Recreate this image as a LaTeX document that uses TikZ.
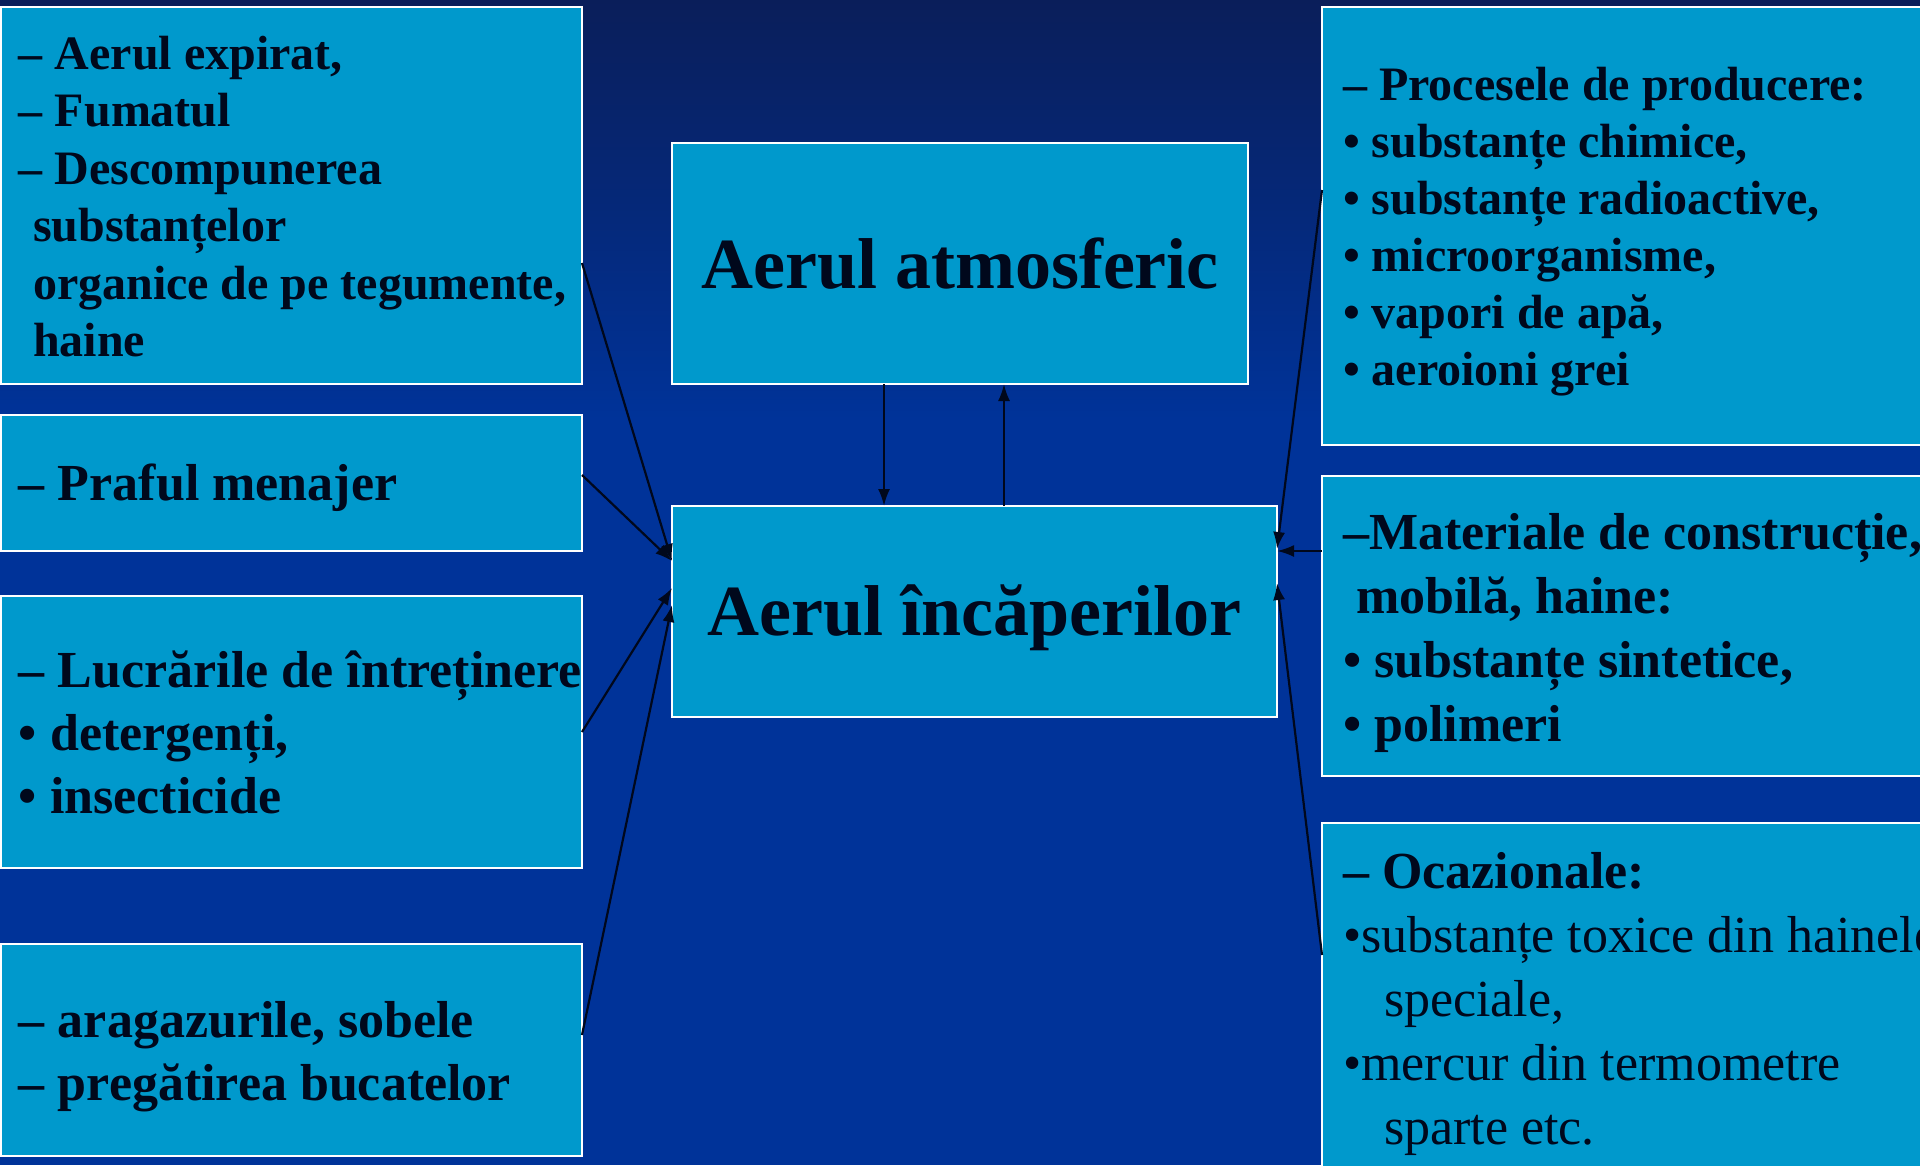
\documentclass[tikz,border=0pt]{standalone}
\usepackage{fontspec}
\setmainfont{Liberation Serif}
\usetikzlibrary{arrows.meta}
\definecolor{boxfill}{RGB}{0,153,204}
\definecolor{backtop}{RGB}{10,30,90}
\definecolor{back}{RGB}{0,51,153}
\definecolor{ink}{RGB}{0,8,28}

\begin{document}
\begin{tikzpicture}[x=1pt,y=-1pt,
    srcbox/.style={draw=white,line width=2pt,fill=boxfill,text=ink,
      inner xsep=18pt,inner ysep=0pt,outer sep=0pt,anchor=north west},
    midbox/.style={srcbox,align=center,font=\fontsize{72}{86}\selectfont\bfseries},
    link/.style={-{Latex[length=17pt,width=12pt]},line width=2.2pt,draw=ink}]
    % background
    \useasboundingbox (0,0) rectangle (1920,1165);
    \clip (0,0) rectangle (1920,1165);
    \fill[back] (0,0) rectangle (1920,1165);
    \shade[top color=backtop,bottom color=back] (0,0) rectangle (1920,420);

    % center boxes
    \node[midbox,minimum width=576pt,minimum height=241pt] (atm) at (672,143) {Aerul atmosferic};
    \node[midbox,minimum width=605pt,minimum height=211pt] (main) at (672,506)
    {\raisebox{-6pt}[\height][\depth]{Aerul încăperilor}};

    % sources on the left
    \node[srcbox,minimum width=581pt,minimum height=377pt] (src1) at (1,7)
    {\fontsize{48}{57.5}\selectfont\bfseries
     \raisebox{-6pt}[\height][\depth]{\makebox[545pt][l]{\begin{tabular}{@{}l@{}}
       – Aerul expirat,\\
       – Fumatul\\
       – Descompunerea\\
       \hspace{14pt}substanțelor\\
       \hspace{14pt}organice de pe tegumente,\\
       \hspace{14pt}haine
     \end{tabular}}}};
    \node[srcbox,minimum width=581pt,minimum height=136pt] (src2) at (1,415)
    {\fontsize{52}{63}\selectfont\bfseries
     \raisebox{-5pt}[\height][\depth]{\makebox[545pt][l]{– Praful menajer}}};
    \node[srcbox,minimum width=581pt,minimum height=272pt] (src3) at (1,596)
    {\fontsize{52}{63}\selectfont\bfseries
     \raisebox{-6pt}[\height][\depth]{\makebox[545pt][l]{\begin{tabular}{@{}l@{}}
       – Lucrările de întreținere\\
       • detergenți,\\
       • insecticide
     \end{tabular}}}};
    \node[srcbox,minimum width=581pt,minimum height=212pt] (src4) at (1,944)
    {\fontsize{52}{63}\selectfont\bfseries
     \raisebox{-6pt}[\height][\depth]{\makebox[545pt][l]{\begin{tabular}{@{}l@{}}
       – aragazurile, sobele\\
       – pregătirea bucatelor
     \end{tabular}}}};

    % sources on the right
    \node[srcbox,inner xsep=21pt,minimum height=438pt] (ext1) at (1322,7)
    {\fontsize{48}{57}\selectfont\bfseries
     \raisebox{-6pt}[\height][\depth]{\makebox[561pt][l]{\begin{tabular}{@{}l@{}}
       – Procesele de producere:\\
       • substanțe chimice,\\
       • substanțe radioactive,\\
       • microorganisme,\\
       • vapori de apă,\\
       • aeroioni grei
     \end{tabular}}}};
    \node[srcbox,inner xsep=21pt,minimum height=300pt] (ext2) at (1322,476)
    {\fontsize{52}{64}\selectfont\bfseries
     \raisebox{-7pt}[\height][\depth]{\makebox[561pt][l]{\begin{tabular}{@{}l@{}}
       –Materiale de construcție,\\
       \hspace{13pt}mobilă, haine:\\
       • substanțe sintetice,\\
       • polimeri
     \end{tabular}}}};
    \node[srcbox,inner xsep=21pt,minimum height=362pt] (ext3) at (1322,823)
    {\fontsize{52}{64}\selectfont
     \makebox[561pt][l]{\begin{tabular}{@{}l@{}}
       \textbf{– Ocazionale:}\\
       •substanțe toxice din hainele\\
       \hspace{41pt}speciale,\\
       •mercur din termometre\\
       \hspace{41pt}sparte etc.
     \end{tabular}}};

    % arrows
    \draw[link] ([yshift=121pt]src1.south east) -- ([yshift=-55pt]main.north west);
    \draw[link] ([yshift=8pt]src2.east) -- ([yshift=-55pt]main.north west);
    \draw[link] (src3.east) -- ([yshift=-82pt]main.north west);
    \draw[link] ([yshift=15pt]src4.east) -- ([yshift=-99pt]main.north west);
    \draw[link] ([xshift=212pt]atm.south west) -- ([xshift=212pt]main.north west);
    \draw[link] ([xshift=332pt]main.north west) -- ([xshift=332pt]atm.south west);
    \draw[link] ([yshift=-183pt]ext1.north west) -- ([yshift=-43pt]main.north east);
    \draw[link] ([yshift=-75pt]ext2.north west) -- ([yshift=-45pt]main.north east);
    \draw[link] ([yshift=-132pt]ext3.north west) -- ([yshift=-77pt]main.north east);
\end{tikzpicture}
\end{document}
